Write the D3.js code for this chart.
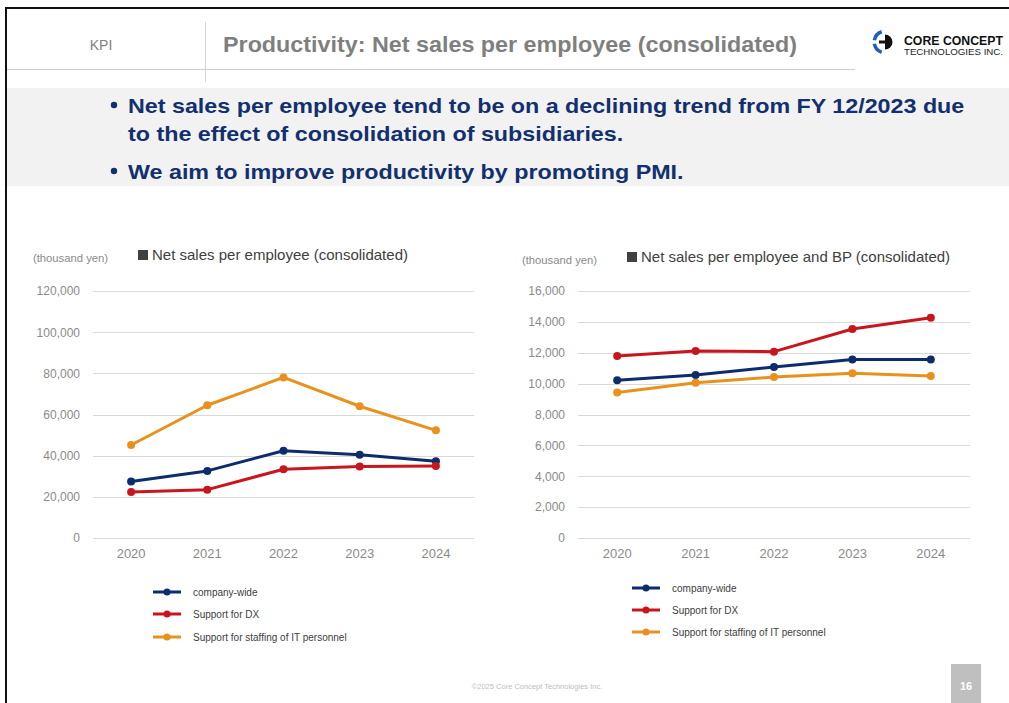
<!DOCTYPE html>
<html>
<head>
<meta charset="utf-8">
<script src="https://cdn.jsdelivr.net/npm/d3@7"></script>
<style>
  html, body { margin: 0; padding: 0; background: #fff; }
  svg { display: block; font-family: Arial, "Liberation Sans", sans-serif; }
</style>
</head>
<body>
<svg id="page" width="1009" height="703"></svg>
<script>
// ---- data ----
const years = ["2020", "2021", "2022", "2023", "2024"];
const seriesNames = ["company-wide", "Support for DX", "Support for staffing of IT personnel"];
const seriesColors = ["#0d2c6e", "#c8161f", "#e8911c"];

// Net sales per employee (consolidated), thousand yen
const empCompanyWide = [27400, 32600, 42400, 40500, 37300];
const empDX = [22300, 23500, 33400, 34700, 35000];
const empStaffing = [45200, 64500, 78000, 64000, 52300];
const empTicks = [0, 20000, 40000, 60000, 80000, 100000, 120000];

// Net sales per employee and BP (consolidated), thousand yen
const bpCompanyWide = [10220, 10560, 11080, 11560, 11570];
const bpDX = [11790, 12110, 12070, 13540, 14270];
const bpStaffing = [9420, 10050, 10430, 10670, 10500];
const bpTicks = [0, 2000, 4000, 6000, 8000, 10000, 12000, 14000, 16000];

const bullets = [
  ["Net sales per employee tend to be on a declining trend from FY 12/2023 due",
   "to the effect of consolidation of subsidiaries."],
  ["We aim to improve productivity by promoting PMI."]
];

const svg = d3.select("#page");

// ---- frame & header ----
svg.append("rect").attr("x", 6).attr("y", 8).attr("width", 1010).attr("height", 700)
  .attr("fill", "none").attr("stroke", "#111").attr("stroke-width", 2);

svg.append("line").attr("x1", 7).attr("x2", 855).attr("y1", 69.5).attr("y2", 69.5)
  .attr("stroke", "#d0d0d0").attr("stroke-width", 1.2);
svg.append("line").attr("x1", 205.5).attr("x2", 205.5).attr("y1", 22).attr("y2", 82)
  .attr("stroke", "#d6d6d6").attr("stroke-width", 1);

svg.append("text").attr("x", 101).attr("y", 50).attr("text-anchor", "middle")
  .attr("font-size", 14).attr("fill", "#7f7f7f").text("KPI");

svg.append("text").attr("x", 223).attr("y", 52)
  .attr("font-size", 21.5).attr("font-weight", "bold").attr("fill", "#7f7f7f")
  .attr("textLength", 574).attr("lengthAdjust", "spacingAndGlyphs")
  .text("Productivity: Net sales per employee (consolidated)");

// company mark
const logo = svg.append("g").attr("transform", "translate(885,42)");
const arc = d3.arc();
logo.append("path").attr("d", arc({innerRadius: 9, outerRadius: 12.5, startAngle: -Math.PI * 0.9, endAngle: -Math.PI * 0.55}))
  .attr("fill", "#1f5fb8");
logo.append("path").attr("d", arc({innerRadius: 9, outerRadius: 12.5, startAngle: -Math.PI * 0.45, endAngle: -Math.PI * 0.1}))
  .attr("fill", "#1f5fb8");
logo.append("path").attr("d", arc({innerRadius: 0, outerRadius: 7.5, startAngle: 0, endAngle: Math.PI}))
  .attr("fill", "#111");
logo.append("rect").attr("x", -6).attr("y", -1.5).attr("width", 8).attr("height", 3).attr("fill", "#111");
svg.append("text").attr("x", 904).attr("y", 45).attr("font-size", 13).attr("font-weight", "bold")
  .attr("fill", "#111").attr("textLength", 99).attr("lengthAdjust", "spacingAndGlyphs").text("CORE CONCEPT");
svg.append("text").attr("x", 904).attr("y", 55).attr("font-size", 9.5)
  .attr("fill", "#222").attr("textLength", 99).attr("lengthAdjust", "spacingAndGlyphs").text("TECHNOLOGIES INC.");

// ---- message band ----
svg.append("rect").attr("x", 7).attr("y", 88).attr("width", 1002).attr("height", 98).attr("fill", "#f2f2f2");
const lineY = [[113, 141], [179]];
const msg = svg.append("g");
const msgLines = [];
bullets.forEach((b, i) => {
  svg.append("circle").attr("cx", 114).attr("cy", lineY[i][0] - 8).attr("r", 3.2).attr("fill", "#12306f");
  b.forEach((t, j) => {
    msgLines.push(msg.append("text").attr("x", 0).attr("y", 0).datum(lineY[i][j])
      .attr("font-size", 21).attr("font-weight", "bold").attr("fill", "#12306f").text(t));
  });
});
// squeeze all message lines by the same factor so the first line spans 837px
const squeeze = 837 / msgLines[0].node().getComputedTextLength();
msgLines.forEach(t => t.attr("transform", d => `translate(128,${d}) scale(${squeeze},1)`));

// ---- line chart ----
function lineChart(opts) {
  const g = svg.append("g");
  const x = d3.scaleBand().domain(years).range(opts.xRange);
  const y = d3.scaleLinear().domain([0, d3.max(opts.ticks)]).range([538, 291]);

  // gridlines
  g.selectAll(".grid").data(opts.ticks).enter().append("line")
    .attr("x1", opts.xRange[0]).attr("x2", opts.xRange[1])
    .attr("y1", d => Math.round(y(d)) + 0.5).attr("y2", d => Math.round(y(d)) + 0.5)
    .attr("stroke", "#d9d9d9").attr("stroke-width", 1);

  // y axis labels
  const yAxis = d3.axisLeft(y).tickValues(opts.ticks).tickSize(0).tickPadding(0).tickFormat(d3.format(","));
  const ya = g.append("g").attr("transform", `translate(${opts.yLabelX},0)`).call(yAxis);
  ya.select(".domain").remove();
  ya.selectAll("text").attr("font-size", 12).attr("fill", "#8a8a8a").attr("font-family", "Arial, 'Liberation Sans', sans-serif");

  // x axis labels
  const xAxis = d3.axisBottom(x).tickSize(0).tickPadding(0);
  const xa = g.append("g").attr("transform", "translate(0,549)").call(xAxis);
  xa.select(".domain").remove();
  xa.selectAll("text").attr("font-size", 13).attr("fill", "#8a8a8a").attr("font-family", "Arial, 'Liberation Sans', sans-serif");

  const line = d3.line().x((d, i) => x(years[i]) + x.bandwidth() / 2).y(d => y(d));
  opts.series.forEach((s, k) => {
    g.append("path").attr("d", line(s)).attr("fill", "none")
      .attr("stroke", seriesColors[k]).attr("stroke-width", 3).attr("stroke-linejoin", "round");
    g.selectAll(null).data(s).enter().append("circle")
      .attr("cx", (d, i) => x(years[i]) + x.bandwidth() / 2).attr("cy", d => y(d))
      .attr("r", 4).attr("fill", seriesColors[k]);
  });

  // unit and title
  g.append("text").attr("x", opts.unitX).attr("y", opts.titleY + 2).attr("font-size", 10.5)
    .attr("fill", "#8a8a8a").attr("textLength", 75).attr("lengthAdjust", "spacingAndGlyphs").text("(thousand yen)");
  g.append("rect").attr("x", opts.titleX).attr("y", opts.titleY - 10).attr("width", 10).attr("height", 10).attr("fill", "#404040");
  g.append("text").attr("x", opts.titleX + 14).attr("y", opts.titleY).attr("font-size", 15)
    .attr("fill", "#404040").text(opts.title);

  // legend
  seriesNames.forEach((n, k) => {
    const ly = opts.legendY[k];
    g.append("line").attr("x1", opts.legendX).attr("x2", opts.legendX + 28).attr("y1", ly).attr("y2", ly)
      .attr("stroke", seriesColors[k]).attr("stroke-width", 3);
    g.append("circle").attr("cx", opts.legendX + 14).attr("cy", ly).attr("r", 3.5).attr("fill", seriesColors[k]);
    g.append("text").attr("x", opts.legendX + 40).attr("y", ly + 3.5).attr("font-size", 10)
      .attr("fill", "#404040").text(n);
  });
}

lineChart({
  xRange: [93, 474], yLabelX: 80, ticks: empTicks,
  series: [empCompanyWide, empDX, empStaffing],
  unitX: 33, titleX: 138, titleY: 260,
  title: "Net sales per employee (consolidated)",
  legendX: 153, legendY: [592, 614, 637]
});

lineChart({
  xRange: [578, 970], yLabelX: 565, ticks: bpTicks,
  series: [bpCompanyWide, bpDX, bpStaffing],
  unitX: 522, titleX: 627, titleY: 262,
  title: "Net sales per employee and BP (consolidated)",
  legendX: 632, legendY: [588, 610, 632]
});

// ---- footer ----
svg.append("text").attr("x", 537).attr("y", 689).attr("text-anchor", "middle").attr("font-size", 7.5)
  .attr("fill", "#bdbdbd").text("©2025 Core Concept Technologies Inc.");
svg.append("rect").attr("x", 951).attr("y", 664).attr("width", 30).attr("height", 40).attr("fill", "#bfbfbf");
svg.append("text").attr("x", 966).attr("y", 690).attr("text-anchor", "middle").attr("font-size", 11)
  .attr("font-weight", "bold").attr("fill", "#fff").text("16");
</script>
</body>
</html>
